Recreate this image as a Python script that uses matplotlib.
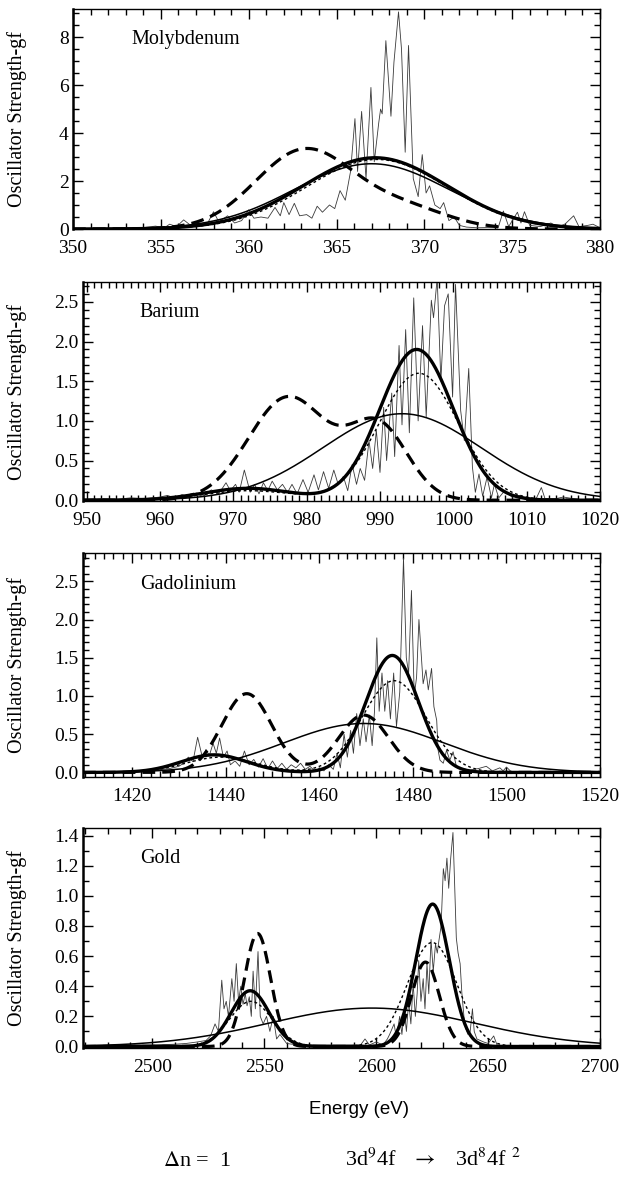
import numpy as np
import matplotlib
matplotlib.use("Agg")
import matplotlib.pyplot as plt
from matplotlib.ticker import MultipleLocator, FormatStrFormatter

plt.rcParams['font.family'] = ['Liberation Serif', 'DejaVu Serif']
plt.rcParams['mathtext.fontset'] = 'stix'

# ---- data: theoretical spectra (energy, gf) ----
mo_x = [350, 351, 352, 353, 354, 354.7, 355.2, 355.5, 355.9, 356.3, 356.7, 357.2, 357.6, 358.0, 358.3,
        358.8, 359.2, 359.6, 360.0, 360.3, 360.7, 361.1, 361.5, 361.8, 362.0, 362.3, 362.6, 362.9,
        363.3, 363.6, 363.9, 364.2, 364.6, 364.9, 365.2, 365.5, 365.8, 366.05, 366.2, 366.43, 366.68,
        366.96, 367.15, 367.4, 367.51, 367.6, 367.81, 368.1, 368.27, 368.53, 368.7, 368.91, 369.1,
        369.37, 369.65, 369.88, 370.1, 370.3, 370.6, 370.9, 371.1, 371.4, 371.7, 372.0, 372.4, 373.0,
        373.6, 374.2, 374.5, 374.8, 375.3, 375.5, 375.7, 376.0, 376.6, 377.2, 377.6, 378.0, 378.5,
        378.8, 379.3, 379.6, 380]
mo_y = [0.02, 0.03, 0.04, 0.05, 0.06, 0.12, 0.05, 0.2, 0.1, 0.38, 0.15, 0.25, 0.15, 0.72, 0.3,
        0.55, 0.25, 0.35, 0.8, 0.45, 0.5, 0.45, 0.9, 0.55, 1.1, 0.6, 1.07, 0.55,
        0.6, 0.45, 0.95, 0.7, 1.0, 0.85, 1.6, 1.2, 2.4, 4.6, 2.4, 4.9, 2.1,
        5.9, 2.8, 4.4, 5.0, 4.8, 7.85, 4.7, 6.95, 9.05, 7.5, 3.2, 7.65,
        2.1, 1.35, 3.1, 1.5, 1.8, 1.0, 0.85, 1.1, 0.35, 0.5, 0.15, 0.08, 0.05,
        0.06, 0.05, 0.75, 0.1, 0.7, 0.25, 0.72, 0.15, 0.1, 0.25, 0.1, 0.2, 0.55,
        0.1, 0.15, 0.2, 0.05]

ba_x = [949.5, 952, 954, 956, 958, 960, 961, 962, 963, 964, 965, 966, 967, 968, 969, 969.6, 970.3,
        970.8, 971.5, 972.3, 972.9, 973.5, 974.1, 974.7, 975.3, 976, 976.7, 977.4, 978, 978.7,
        979.5, 980.2, 981, 981.6, 982.3, 983, 983.7, 984.3, 985, 985.6, 986.2, 986.8, 987.3,
        987.9, 988.5, 989.0, 989.5, 990.0, 990.5, 990.9, 991.6, 992.0, 992.6, 993.0, 993.5,
        994.0, 994.6, 995.2, 995.8, 996.3, 997.0, 997.3, 997.8, 998.3, 998.8, 999.3, 999.9,
        1000.3, 1001.0, 1001.5, 1002.1, 1002.6, 1003.0, 1003.5, 1004.0, 1004.6, 1005.2, 1005.6,
        1006.2, 1007, 1008, 1009, 1010, 1011.3, 1012, 1012.5, 1014, 1015, 1017, 1020]
ba_y = [0.01, 0.02, 0.01, 0.03, 0.02, 0.04, 0.06, 0.03, 0.07, 0.04, 0.09, 0.06, 0.13, 0.08, 0.22, 0.12, 0.2,
        0.1, 0.38, 0.1, 0.2, 0.08, 0.22, 0.12, 0.24, 0.13, 0.2, 0.1, 0.2, 0.08,
        0.26, 0.1, 0.32, 0.13, 0.36, 0.15, 0.38, 0.2, 0.3, 0.12, 0.45, 0.2, 0.4,
        0.25, 0.75, 0.4, 0.88, 0.35, 1.17, 0.5, 1.35, 0.55, 1.95, 0.95, 2.15,
        0.85, 2.55, 1.0, 2.2, 1.05, 2.52, 2.3, 2.8, 1.5, 2.45, 2.6, 1.3,
        2.72, 1.13, 0.75, 1.66, 0.42, 0.1, 0.33, 0.05, 0.29, 0.03, 0.2,
        0.03, 0.12, 0.04, 0.06, 0.03, 0.02, 0.16, 0.02, 0.02, 0.04, 0.01, 0.01]

gd_x = [1409.5, 1415, 1420, 1425, 1428, 1430, 1431, 1432, 1433, 1434, 1435, 1435.8, 1436.5, 1437.3,
        1438, 1438.7, 1439.5, 1440.3, 1441, 1442, 1443, 1444, 1445, 1446, 1447, 1448, 1449, 1450,
        1451, 1452, 1453, 1454, 1455, 1456, 1457, 1458, 1459, 1460, 1461, 1462, 1463, 1463.8,
        1464.5, 1465.3, 1466, 1466.7, 1467.3, 1468, 1468.7, 1469.4, 1470, 1470.7, 1471.3, 1471.8,
        1472.3, 1472.8, 1473.4, 1474, 1474.6, 1475.2, 1475.9, 1476.5, 1477.2, 1478.0, 1478.6,
        1479.1, 1479.7, 1480.3, 1480.8, 1481.3, 1482.2, 1482.8, 1483.3, 1484.0, 1484.5, 1485.1,
        1485.4, 1485.8, 1486.5, 1487.2, 1487.9, 1488.6, 1489.3, 1490.5, 1492.2, 1494, 1495.7,
        1497, 1498.6, 1499.3, 1500, 1501, 1510, 1520]
gd_y = [0.01, 0.01, 0.02, 0.03, 0.05, 0.08, 0.12, 0.2, 0.14, 0.46, 0.2, 0.3, 0.22, 0.38,
        0.25, 0.45, 0.2, 0.28, 0.1, 0.15, 0.08, 0.28, 0.1, 0.17, 0.07, 0.18, 0.05, 0.15,
        0.05, 0.12, 0.04, 0.1, 0.06, 0.12, 0.04, 0.08, 0.02, 0.05, 0.02, 0.1, 0.04, 0.25,
        0.06, 0.5, 0.2, 0.55, 0.25, 0.77, 0.35, 0.7, 0.4, 0.75, 0.35, 0.8,
        1.76, 0.8, 1.3, 0.8, 1.2, 0.7, 1.3, 0.6, 1.05, 2.8, 1.5,
        1.3, 2.38, 1.0, 1.25, 2.0, 1.16, 1.34, 1.08, 1.36, 0.86, 0.68,
        0.29, 0.16, 0.12, 0.29, 0.16, 0.27, 0.08, 0.05, 0.03, 0.05, 0.08,
        0.02, 0.06, 0.02, 0.07, 0.01, 0.0, 0.0]

au_x = [2469, 2480, 2490, 2500, 2510, 2515, 2520, 2524, 2526, 2528, 2529.5, 2531, 2532, 2533, 2534,
        2535.5, 2536.5, 2537.5, 2538.5, 2539.5, 2540.5, 2541.5, 2542.3, 2543.3, 2544.2, 2545, 2546,
        2547.2, 2548.2, 2549.5, 2551, 2552.5, 2554, 2555.5, 2557, 2560, 2565, 2575, 2585, 2593,
        2595, 2597, 2600, 2603, 2605, 2606, 2608, 2609, 2610.5, 2611.5, 2612.5, 2613.5, 2614.5,
        2615.5, 2616.5, 2617.5, 2618.3, 2619, 2620, 2621, 2621.8, 2622.7, 2623.5, 2624.5, 2625.5,
        2626.5, 2627.3, 2628, 2629, 2630, 2630.8, 2631.6, 2632.4, 2633.3, 2634.3, 2635, 2635.8,
        2636.6, 2637.5, 2638.3, 2639.2, 2640, 2641, 2642, 2643, 2643.8, 2645, 2648, 2650, 2652.5,
        2654, 2660, 2700]
au_y = [0.0, 0.005, 0.01, 0.01, 0.015, 0.02, 0.03, 0.04, 0.07, 0.15, 0.1, 0.44, 0.25, 0.3, 0.2,
        0.45, 0.3, 0.55, 0.3, 0.4, 0.28, 0.35, 0.27, 0.33, 0.2, 0.5, 0.25,
        0.63, 0.2, 0.15, 0.2, 0.1, 0.2, 0.05, 0.08, 0.02, 0.01, 0.01, 0.01, 0.01,
        0.05, 0.01, 0.03, 0.01, 0.05, 0.08, 0.15, 0.06, 0.2, 0.08, 0.25, 0.1, 0.3,
        0.15, 0.42, 0.2, 0.35, 0.57, 0.3, 0.45, 0.25, 0.55, 0.35, 0.71, 0.5,
        0.68, 0.62, 0.7, 0.8, 1.18, 1.1, 1.25, 1.05, 1.25, 1.42, 1.1, 0.72,
        0.62, 0.55, 0.35, 0.2, 0.12, 0.08, 0.1, 0.25, 0.1, 0.05, 0.03, 0.02, 0.07,
        0.01, 0.0, 0.0]

# ---- data: model profiles, each a list of (centre eV, height gf, width eV) ----
mo_thick = [(367.2, 2.97, 4.1)]
mo_dotted = [(367.3, 2.9, 4.0)]
mo_thin = [(367.0, 2.72, 4.4)]
mo_dashed = [(363.2, 3.3, 2.8), (369.0, 0.8, 2.5)]

ba_thick = [(995.0, 1.9, 5.0), (972.0, 0.15, 6.0)]
ba_dotted = [(995.3, 1.6, 5.4), (972.0, 0.12, 6.0)]
ba_thin = [(993.0, 1.09, 10.8)]
ba_dashed = [(977.5, 1.3, 5.4), (989.8, 0.92, 4.0)]

gd_thick = [(1475.6, 1.53, 5.6), (1437.5, 0.23, 7.0)]
gd_dotted = [(1476.0, 1.2, 6.8), (1439.0, 0.2, 7.5)]
gd_thin = [(1469.5, 0.64, 17.0)]
gd_dashed = [(1444.5, 1.03, 5.3), (1469.5, 0.75, 5.3)]

au_thick = [(2625.2, 0.945, 7.5), (2543.7, 0.37, 8.5)]
au_dotted = [(2625.0, 0.69, 11.0), (2544.0, 0.3, 9.5)]
au_thin = [(2598.0, 0.255, 46.0)]
au_dashed = [(2547.0, 0.75, 5.8), (2622.0, 0.56, 6.2)]

names = ["Molybdenum", "Barium", "Gadolinium", "Gold"]

panels = [
    dict(name=names[0], sx=mo_x, sy=mo_y, thick=mo_thick, dotted=mo_dotted, thin=mo_thin, dashed=mo_dashed,
         xlim=(350, 380), ylim=(0, 9.17), xmaj=5, xmin=1, ymaj=2, ymin=0.5, fmt='%d',
         box=(73, 9, 600, 229)),
    dict(name=names[1], sx=ba_x, sy=ba_y, thick=ba_thick, dotted=ba_dotted, thin=ba_thin, dashed=ba_dashed,
         xlim=(949.5, 1020), ylim=(-0.01, 2.75), xmaj=10, xmin=1, ymaj=0.5, ymin=0.1, fmt='%.1f',
         box=(83, 282, 600, 501)),
    dict(name=names[2], sx=gd_x, sy=gd_y, thick=gd_thick, dotted=gd_dotted, thin=gd_thin, dashed=gd_dashed,
         xlim=(1409.5, 1520), ylim=(-0.06, 2.87), xmaj=20, xmin=2, ymaj=0.5, ymin=0.1, fmt='%.1f',
         box=(83, 553, 600, 777)),
    dict(name=names[3], sx=au_x, sy=au_y, thick=au_thick, dotted=au_dotted, thin=au_thin, dashed=au_dashed,
         xlim=(2469, 2700), ylim=(-0.01, 1.45), xmaj=50, xmin=10, ymaj=0.2, ymin=0.1, fmt='%.1f',
         box=(83, 828, 600, 1048)),
]

W, H = 638, 1180
fig = plt.figure(figsize=(W / 100, H / 100), dpi=100)


def profile(e, comps):
    total = np.zeros_like(e)
    for c, h, w in comps:
        total += h * np.exp(-(e - c) ** 2 / (2 * w ** 2))
    return total


for p in panels:
    l, t, r, b = p['box']
    ax = fig.add_axes([l / W, 1 - b / H, (r - l) / W, (b - t) / H])
    e = np.linspace(p['xlim'][0], p['xlim'][1], 800)

    ax.plot(p['sx'], p['sy'], color='#3a3a3a', lw=0.6, zorder=2)
    ax.plot(e, profile(e, p['thin']), color='black', lw=1.1, zorder=3)
    ax.plot(e, profile(e, p['dotted']), color='black', lw=1.0, dashes=(2, 2), zorder=3)
    ax.plot(e, profile(e, p['dashed']), color='black', lw=2.3, dashes=(4, 2.2), zorder=4)
    ax.plot(e, profile(e, p['thick']), color='black', lw=2.4, zorder=5)

    ax.set_xlim(*p['xlim'])
    ax.set_ylim(*p['ylim'])
    ax.xaxis.set_major_locator(MultipleLocator(p['xmaj']))
    ax.xaxis.set_minor_locator(MultipleLocator(p['xmin']))
    ax.yaxis.set_major_locator(MultipleLocator(p['ymaj']))
    ax.yaxis.set_minor_locator(MultipleLocator(p['ymin']))
    ax.yaxis.set_major_formatter(FormatStrFormatter(p['fmt']))
    ax.tick_params(which='both', direction='in', top=True, right=True, labelsize=14, width=1.0)
    ax.tick_params(axis='x', which='major', pad=8)
    ax.tick_params(axis='y', which='major', pad=3)
    ax.tick_params(which='major', length=7)
    ax.tick_params(which='minor', length=4)
    for s in ax.spines.values():
        s.set_linewidth(1.0)
    ax.spines['left'].set_linewidth(1.8)

    ax.text(0.11, 0.86, p['name'], transform=ax.transAxes, fontsize=14.5, ha='left', va='center')
    ax.set_ylabel('Oscillator Strength-gf', fontsize=14.5)
    ax.yaxis.set_label_coords((27 - l) / (r - l), 0.5)

fig.text(359 / W, 1 - 1110 / H, 'Energy (eV)', family='Liberation Sans', fontsize=13.5,
         ha='center', va='center')
fig.text(197 / W, 1 - 1162 / H, r'$\Delta$n =  1', fontsize=16, ha='center', va='center')
fig.text(433 / W, 1 - 1160 / H, r'3d$^{9}$4f   $\rightarrow$   3d$^{8}$4f $^{2}$', fontsize=16,
         ha='center', va='center')

fig.savefig('out.png', dpi=100)
